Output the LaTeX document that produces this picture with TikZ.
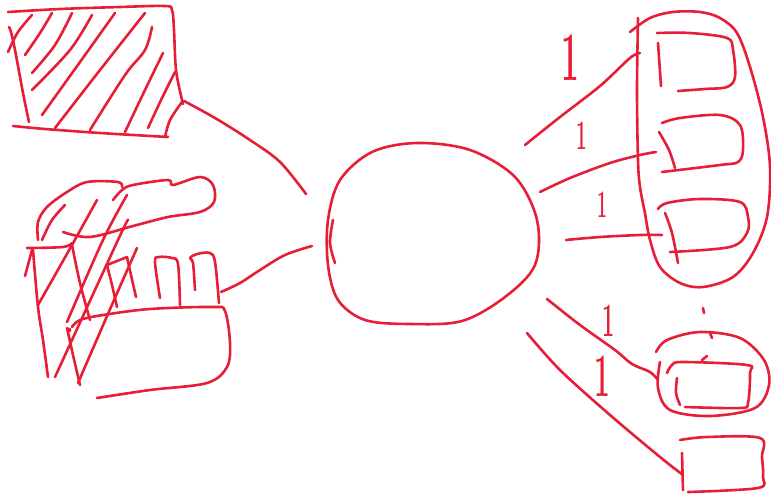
\documentclass[tikz,border=0pt]{standalone}
\usepackage{graphicx}
\definecolor{inkred}{RGB}{230,30,55}
\tikzset{
  ink/.style={draw=inkred, line width=2.6pt, line cap=round, line join=round},
  lbl/.style={text=inkred, inner sep=0pt, anchor=center},
}
\newcommand{\sm}[1]{\draw[ink] plot[smooth, tension=0.55] coordinates {#1};}
\newcommand{\smc}[1]{\draw[ink] plot[smooth cycle, tension=0.55] coordinates {#1};}
\newcommand{\digit}[2]{\fontsize{#1}{#1}\selectfont\bfseries\scalebox{0.45}[1]{#2}}
\begin{document}
\begin{tikzpicture}[x=1pt,y=-1pt]
\useasboundingbox (0,0) rectangle (771,495);

% ---------- top-left hatched box ----------
\sm{(8,12) (60,9) (120,7) (165,6) (172,10) (174,30) (176,70) (182,100) (183,104)}
\sm{(9,27) (11,32) (15,50) (23,93) (29,122)}
\sm{(13,126) (45,129) (100,133) (168,137)}
\sm{(8,52) (18,32) (32,15)}
\sm{(25,55) (40,33) (52,13)}
\sm{(32,73) (55,45) (72,13)}
\sm{(32,90) (70,50) (92,15)}
\sm{(42,115) (80,62) (115,13)}
\sm{(55,128) (100,70) (145,13)}
\sm{(90,130) (125,75) (145,50) (152,27)}
\sm{(125,132) (145,90) (163,53)}
\sm{(148,128) (162,98) (175,72)}
\sm{(165,137) (170,120) (182,102)}

% ---------- hand ----------
\sm{(38,240) (38,222) (47,207) (67,192) (87,182) (118,182) (122,187)}
\sm{(113,200) (122,190) (133,185) (168,180) (173,185) (200,177) (213,185) (214,202) (200,212) (168,217) (133,226) (90,237) (63,232)}
\sm{(27,248) (63,247) (72,243)}
\sm{(65,205) (52,220) (42,240)}
\sm{(32,250) (25,276)}
\sm{(97,200) (72,245) (38,305)}
\sm{(127,195) (103,240) (67,322)}
\sm{(128,220) (118,240) (55,377)}
\sm{(137,248) (111,307) (78,383)}
\sm{(33,250) (38,307) (43,340) (48,377)}
\sm{(72,245) (80,283) (90,320)}
\sm{(67,328) (73,355) (80,385)}
\sm{(72,327) (80,320) (103,315) (150,309) (213,307) (225,311) (230,343) (227,367) (207,383) (150,390) (97,398)}
\sm{(107,265) (127,257)}
\sm{(107,265) (112,285) (117,307)}
\sm{(127,257) (131,275) (136,297)}
\sm{(160,298) (155,262) (159,257) (172,258) (178,264) (180,305)}
\sm{(195,290) (193,263) (190,258) (197,254) (210,253) (215,262) (219,303)}
\fill[inkred] (69,330) circle (2.4pt);

% ---------- centre circle ----------
\smc{(417,143) (470,150) (515,177) (537,220) (535,265) (505,297) (462,321) (410,324) (365,320) (338,300) (328,265) (328,220) (340,180) (372,152)}
\sm{(333,220) (330,243) (335,263)}

% connector end points
\coordinate (tl) at (184,101);
\coordinate (hd) at (221,292);
\coordinate (cL1) at (306,194);
\coordinate (cL2) at (312,246);
\draw[ink] plot[smooth, tension=0.55] coordinates {(tl) (215,118) (250,140) (280,162) (cL1)};
\draw[ink] plot[smooth, tension=0.55] coordinates {(hd) (240,283) (260,270) (285,255) (cL2)};

% right connectors
\sm{(525,145) (560,117) (600,86) (630,58) (640,53)}
\sm{(540,192) (570,178) (610,163) (640,155) (656,152)}
\sm{(566,240) (600,237) (640,235) (662,235)}
\sm{(547,299) (580,325) (615,350) (632,364) (650,372) (658,380)}
\sm{(527,333) (560,370) (610,415) (660,457) (683,475)}

% ---------- top right blob ----------
\sm{(630,32) (650,18) (673,12) (700,12) (720,18) (737,33) (750,67) (763,117) (770,167) (767,217) (753,253) (733,277) (703,287) (680,283) (660,267) (650,240) (645,213)}
\sm{(638,18) (637,90) (638,160) (640,187) (645,213)}
\sm{(657,33) (690,33) (727,38) (733,50) (735,77) (727,87) (705,89) (678,91)}
\sm{(658,43) (661,86)}
\sm{(662,123) (680,118) (720,115) (740,125) (743,150) (738,162) (720,165) (662,172)}
\sm{(659,132) (669,150) (675,168)}
\sm{(658,209) (667,203) (700,199) (740,202) (748,217) (747,233) (730,247) (670,252)}
\sm{(665,213) (672,233) (678,263)}

% ---------- lower right ----------
\sm{(703,308) (704,313)}
\sm{(656,352) (667,340) (700,332) (740,338) (764,360) (769,385) (755,408) (710,416) (670,410) (658,388) (660,362)}
\sm{(710,333) (712,338)}
\sm{(702,360) (707,356)}
\sm{(667,373) (672,365) (683,362) (747,365) (750,373) (748,403) (740,408) (685,407)}
\sm{(677,378) (676,393) (680,405)}
\sm{(680,440) (707,437) (760,438) (762,457) (763,477) (758,488) (688,492)}
\sm{(682,453) (683,490)}

% ---------- labels ----------
\node[lbl] (n1) at (570,58) {\digit{70}{1}};
\node[lbl] (n2) at (582,136) {\digit{42}{1}};
\node[lbl] (n3) at (602,205) {\digit{39}{1}};
\node[lbl] (n4) at (609,321) {\digit{48}{1}};
\node[lbl] (n5) at (602,376) {\digit{62}{1}};
\end{tikzpicture}
\end{document}
